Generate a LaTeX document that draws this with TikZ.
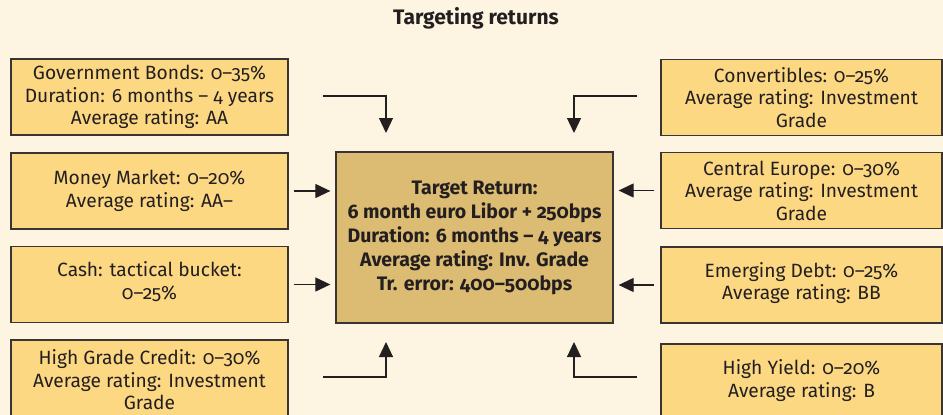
\documentclass[tikz,border=0pt]{standalone}
\usepackage{fontspec}
\setmainfont{Fira Sans}[Numbers=OldStyle]
\usetikzlibrary{arrows.meta}
\definecolor{bg}{HTML}{FDF4E1}
\definecolor{boxfill}{HTML}{FDD883}
\definecolor{ctrfill}{HTML}{DCBB72}
\definecolor{edge}{HTML}{3A3532}
\definecolor{ink}{HTML}{231F20}
\begin{document}
\begin{tikzpicture}[x=1pt,y=-1pt,
  sidebox/.style={draw=edge, line width=1.3pt, fill=boxfill, minimum width=277pt, minimum height=76pt, inner sep=0pt, align=center, text=ink, font=\fontsize{19.2}{22.5}\selectfont},
  ctrbox/.style={draw=edge, line width=1.3pt, fill=ctrfill, minimum width=277pt, minimum height=171pt, inner sep=0pt, align=center, text=ink, font=\fontsize{19.5}{24}\selectfont\bfseries},
  arr/.style={draw=ink, line width=1.2pt, -{Triangle[length=15pt,width=14pt]}},
  titlestyle/.style={text=ink, font=\fontsize{21}{24}\selectfont\bfseries}]
\clip (0,0) rectangle (943,415);
\fill[bg] (0,0) rectangle (943,415);
\node[titlestyle] (title) at (476,18) {Targeting returns};
% left boxes
\node[sidebox] (gb) at (149.5,97) {Government Bonds: 0–35\%\\Duration: 6 months – 4 years\\Average rating: AA};
\node[sidebox] (mm) at (149.5,191) {Money Market: 0–20\%\\Average rating: AA–};
\node[sidebox] (cash) at (149.5,284.5) {Cash: tactical bucket:\\0–25\%\\[-14.5pt]};
\node[sidebox, minimum height=80pt] (hgc) at (149.5,380) {High Grade Credit: 0–30\%\\Average rating: Investment\\Grade};
% right boxes
\node[sidebox, minimum width=281pt] (conv) at (801.5,97.5) {Convertibles: 0–25\%\\Average rating: Investment\\Grade};
\node[sidebox, minimum width=281pt] (ce) at (801.5,190.5) {Central Europe: 0–30\%\\Average rating: Investment\\Grade};
\node[sidebox, minimum width=281pt] (ed) at (801.5,285) {Emerging Debt: 0–25\%\\Average rating: BB\\[-14.5pt]};
\node[sidebox, minimum width=281pt] (hy) at (801.5,382) {High Yield: 0–20\%\\Average rating: B\\[-16pt]};
% centre
\node[ctrbox] (ctr) at (474.5,237.5) {Target Return:\\6 month euro Libor + 250bps\\Duration: 6 months – 4 years\\Average rating: Inv. Grade\\Tr. error: 400–500bps};
% bent connectors
\coordinate (tlA) at (323,96);
\coordinate (tlB) at (386,133);
\coordinate (trA) at (637,96);
\coordinate (trB) at (574,133);
\coordinate (blA) at (323,377);
\coordinate (blB) at (386,342);
\coordinate (brA) at (637,377);
\coordinate (brB) at (574,342);
\draw[arr] (tlA) -| (tlB);
\draw[arr] (trA) -| (trB);
\draw[arr] (blA) -| (blB);
\draw[arr] (brA) -| (brB);
% side connectors
\draw[arr] ([xshift=5pt]mm.east) -- ([xshift=-5pt]ctr.west |- mm.east);
\draw[arr] ([xshift=5pt]cash.east) -- ([xshift=-5pt]ctr.west |- cash.east);
\draw[arr] ([xshift=-6pt]ce.west) -- ([xshift=5pt]ctr.east |- ce.west);
\draw[arr] ([xshift=-6pt]ed.west) -- ([xshift=5pt]ctr.east |- ed.west);
\end{tikzpicture}
\end{document}
